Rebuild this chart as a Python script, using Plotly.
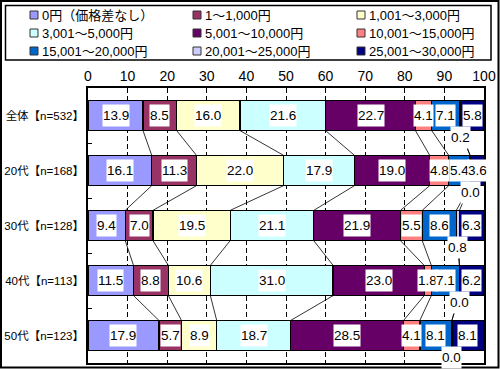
import plotly.graph_objects as go

categories = ["全体【n=532】", "20代【n=168】", "30代【n=128】", "40代【n=113】", "50代【n=123】"]
series_names = ["0円（価格差なし）", "1～1,000円", "1,001～3,000円",
                "3,001～5,000円", "5,001～10,000円", "10,001～15,000円",
                "15,001～20,000円", "20,001～25,000円", "25,001～30,000円"]
s_0 = [13.9, 16.1, 9.4, 11.5, 17.9]
s_1 = [8.5, 11.3, 7.0, 8.8, 5.7]
s_2 = [16.0, 22.0, 19.5, 10.6, 8.9]
s_3 = [21.6, 17.9, 21.1, 31.0, 18.7]
s_4 = [22.7, 19.0, 21.9, 23.0, 28.5]
s_5 = [4.1, 4.8, 5.5, 1.8, 4.1]
s_6 = [7.1, 5.4, 8.6, 7.1, 8.1]
s_7 = [0.2, 0.0, 0.8, 0.0, 0.0]
s_8 = [5.8, 3.6, 6.3, 6.2, 8.1]
x_ticks = [0, 10, 20, 30, 40, 50, 60, 70, 80, 90, 100]

series = [s_0, s_1, s_2, s_3, s_4, s_5, s_6, s_7, s_8]
colors = ["#9999FF", "#993366", "#FFFFCC", "#CCFFFF", "#660066",
          "#FF8080", "#0066CC", "#CCCCFF", "#000080"]

W, H = 500, 369
L, R, T, B = 88, 16, 88, 6
PW, PH = W - L - R, H - T - B
BARW = 0.55
NUMFONT = "Liberation Sans Narrow, Arial Narrow, Liberation Sans, Noto Sans CJK JP"
JPFONT = "Liberation Sans, Noto Sans CJK JP"

def px(x):
    return (x - L) / PW

def py(y):
    return 1 - (y - T) / PH

ypos = list(range(len(categories)))

fig = go.Figure()
for name, vals, col in zip(series_names, series, colors):
    fig.add_trace(go.Bar(
        y=ypos, x=vals, name=name, orientation="h", width=BARW,
        marker=dict(color=col, line=dict(color="black", width=1.3)),
        showlegend=False, hoverinfo="skip"))

# cumulative sums
cum = []
for i in range(len(categories)):
    c, row = 0.0, []
    for s in series:
        c += s[i]
        row.append(c)
    cum.append(row)

# series lines
lx, ly = [], []
for i in range(len(categories) - 1):
    for k in range(len(series) - 1):
        lx += [cum[i][k], cum[i + 1][k], None]
        ly += [i + BARW / 2, i + 1 - BARW / 2, None]
fig.add_trace(go.Scatter(x=lx, y=ly, mode="lines", line=dict(color="black", width=0.8),
                         showlegend=False, hoverinfo="skip"))

# data labels
annotations = []
for i in range(len(categories)):
    start = 0.0
    for k, s in enumerate(series):
        v = s[i]
        center = start + v / 2
        ann = dict(x=center, y=i, xref="x", yref="y", text=f"{v:.1f}", showarrow=False,
                   bgcolor="white", borderpad=0, height=21,
                   font=dict(family=NUMFONT, size=13.5, color="black"))
        if k == 7:
            ann["yshift"] = -22
        annotations.append(ann)
        start += v

# manual legend
shapes = []
col_x = [30, 193, 357]
row_y = [15, 33, 51]
for idx, (name, col) in enumerate(zip(series_names, colors)):
    r, c = divmod(idx, 3)
    x0, yc = col_x[c], row_y[r]
    shapes.append(dict(type="rect", xref="paper", yref="paper",
                       x0=px(x0), x1=px(x0 + 8), y0=py(yc + 4), y1=py(yc - 4),
                       fillcolor=col, line=dict(color="#333333", width=1)))
    annotations.append(dict(xref="paper", yref="paper", x=px(x0 + 10), y=py(yc),
                            xanchor="left", yanchor="middle", text=name, showarrow=False,
                            font=dict(family=JPFONT, size=13, color="black")))
# legend box
shapes.append(dict(type="rect", xref="paper", yref="paper",
                   x0=px(5.5), x1=px(491), y0=py(60), y1=py(5.5),
                   line=dict(color="black", width=1.5), fillcolor="rgba(0,0,0,0)"))
# outer border
shapes.append(dict(type="rect", xref="paper", yref="paper",
                   x0=px(1), x1=px(498.5), y0=py(367.5), y1=py(1),
                   line=dict(color="black", width=2), fillcolor="rgba(0,0,0,0)"))

fig.update_layout(
    width=W, height=H, barmode="stack", bargap=0.45,
    margin=dict(l=L, r=R, t=T, b=B, pad=0, autoexpand=False),
    paper_bgcolor="white", plot_bgcolor="white",
    showlegend=False,
    annotations=annotations, shapes=shapes,
    font=dict(family=JPFONT, size=12, color="black"),
    xaxis=dict(range=[0, 100], tickvals=x_ticks, ticktext=[str(t) for t in x_ticks],
               side="top", showgrid=True, gridcolor="black", griddash="5px,3px",
               gridwidth=1, showline=True, linecolor="black", linewidth=1.5,
               mirror=True, ticks="", zeroline=False, automargin=False,
               tickfont=dict(family=NUMFONT, size=14)),
    yaxis=dict(range=[len(categories) - 0.5, -0.5], tickvals=ypos, ticktext=categories,
               showgrid=False, showline=True, linecolor="black", linewidth=1.5,
               mirror=True, ticks="", zeroline=False, automargin=False,
               tickfont=dict(family=JPFONT, size=11.5),
               minor=dict(tickvals=[0.5, 1.5, 2.5, 3.5], ticks="inside", ticklen=4,
                          tickcolor="black", tickwidth=1)),
)

fig.write_html("out.html", config={"displayModeBar": False},
               post_script="document.body.style.margin='0';document.body.style.padding='0';")
